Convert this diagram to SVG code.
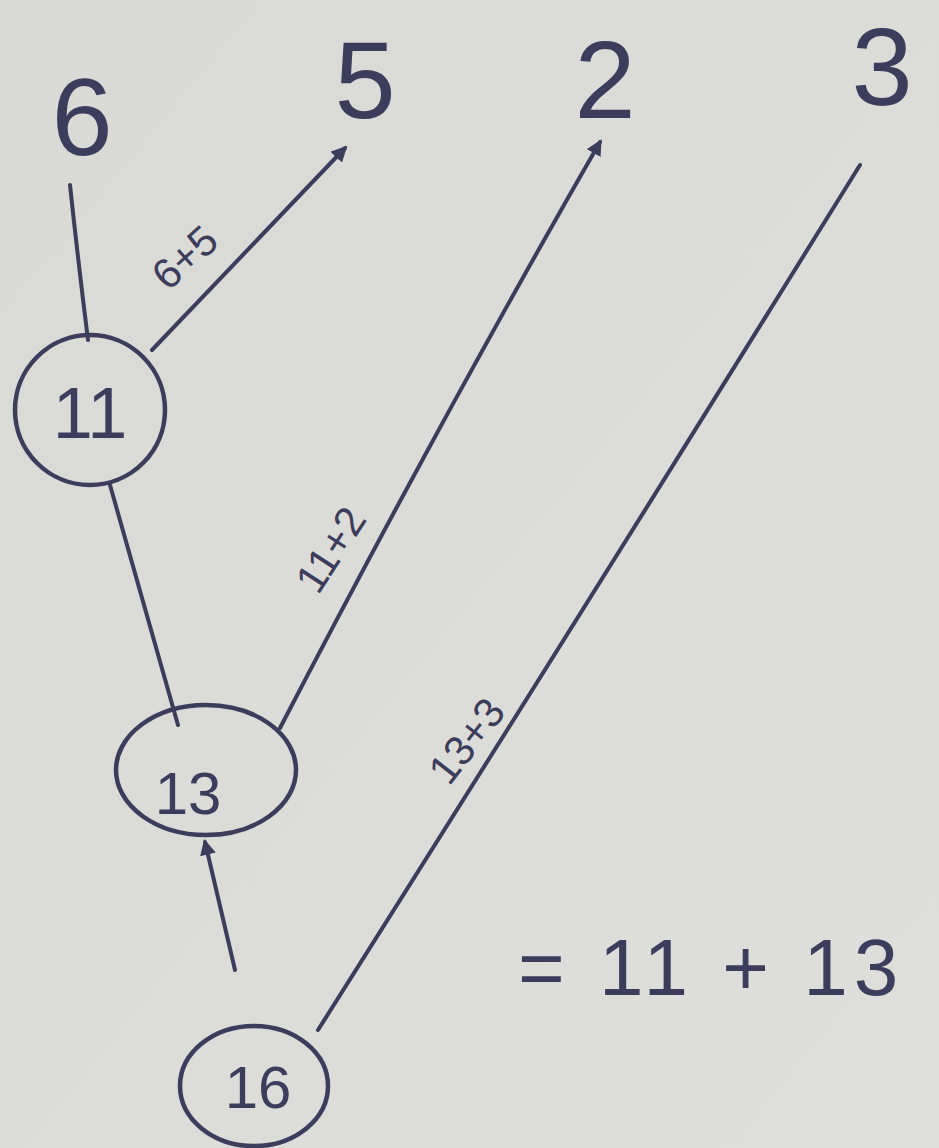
<svg xmlns="http://www.w3.org/2000/svg" width="939" height="1148" viewBox="0 0 939 1148">
<defs>
<style>
.ink{stroke:#3c3c5c;stroke-width:4;fill:none;stroke-linecap:round}
.node{stroke:#3c3c5c;stroke-width:4.5;fill:none}
.t{font-family:"Liberation Sans",Arial,sans-serif;fill:#3c3c5c}
.big{font-size:110px}
.mid{font-size:60px}
.lbl{font-size:42px}
</style>
<marker id="ah" viewBox="0 0 10 10" refX="8" refY="5" markerWidth="4" markerHeight="4" orient="auto"><path d="M0,0 L10,5 L0,10 z" fill="#3c3c5c"/></marker>
<linearGradient id="bg" x1="0" y1="0" x2="1" y2="1"><stop offset="0" stop-color="#d9d9d5"/><stop offset="1" stop-color="#dededa"/></linearGradient>
</defs>
<rect width="939" height="1148" fill="url(#bg)"/>
<g id="connectors">
<path class="ink" d="M70,185 Q78,260 88,340"/>
<path class="ink" d="M152,350 L345,148" marker-end="url(#ah)"/>
<path class="ink" d="M280,728 Q440,420 600,142" marker-end="url(#ah)"/>
<path class="ink" d="M318,1030 Q590,600 860,165"/>
<path class="ink" d="M110,485 Q145,610 178,725"/>
<path class="ink" d="M235,970 Q220,905 205,842" marker-end="url(#ah)"/>
<text class="t lbl" transform="translate(168,292) rotate(-42)">6+5</text>
<text class="t lbl" transform="translate(318,596) rotate(-57)">11+2</text>
<text class="t lbl" transform="translate(449,787) rotate(-52)">13+3</text>
</g>
<g id="n6"><text class="t big" x="82" y="155" text-anchor="middle">6</text></g>
<g id="n5"><text class="t big" x="365" y="118" text-anchor="middle">5</text></g>
<g id="n2"><text class="t big" x="605" y="118" text-anchor="middle">2</text></g>
<g id="n3"><text class="t big" x="882" y="105" text-anchor="middle">3</text></g>
<g id="n11"><ellipse class="node" cx="90" cy="410" rx="75" ry="75"/><text class="t" font-size="72" x="90" y="438" text-anchor="middle">11</text></g>
<g id="n13"><ellipse class="node" cx="206" cy="770" rx="90" ry="65"/><text class="t mid" x="188" y="814" text-anchor="middle">13</text></g>
<g id="n16"><ellipse class="node" cx="254" cy="1086" rx="74" ry="60"/><text class="t mid" x="258" y="1108" text-anchor="middle">16</text></g>
<g id="eq"><text class="t" font-size="80" letter-spacing="6" x="518" y="995">= 11 + 13</text></g>
</svg>
